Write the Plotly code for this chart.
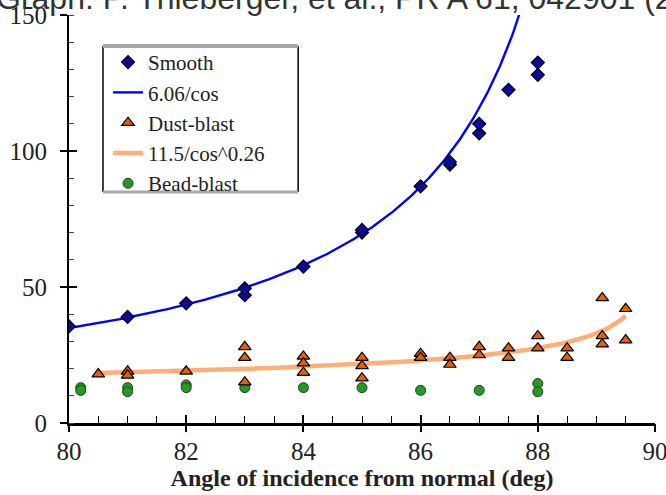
import numpy as np
import plotly.graph_objects as go

# ---- data ----
smooth_angle = [80, 81, 82, 83, 83, 84, 85, 85, 86, 86.5, 86.5, 87, 87, 87.5, 88, 88]
smooth_val = [35.5, 39, 44, 47, 49.5, 57.5, 70, 71, 87, 95, 96, 106.5, 110, 122.5, 128, 132.5]

dust_angle = [80.5, 81, 81, 82, 83, 83, 83, 84, 84, 84, 85, 85, 85, 86, 86,
              86.5, 86.5, 87, 87, 87.5, 87.5, 88, 88, 88.5, 88.5, 89.1, 89.1, 89.1, 89.5, 89.5]
dust_val = [18, 19, 17.5, 19, 28, 24, 15, 24.5, 22, 18.5, 24, 21, 16.5, 25.5, 24,
            24, 21.5, 28, 25, 27.5, 24, 32, 27.5, 27.5, 24, 46, 32, 29, 42, 30.5]

bead_angle = [80.2, 80.2, 81, 81, 82, 82, 83, 84, 85, 86, 87, 88, 88]
bead_val = [13, 12, 13, 11.5, 14, 13, 13, 13, 13, 12, 12, 14.5, 11.5]

# fit curves given in the legend: A / cos(theta)^p
smooth_fit_coef, smooth_fit_pow = 6.06, 1.0
dust_fit_coef, dust_fit_pow = 11.5, 0.26
smooth_fit_range = [80.0, 87.9]
dust_fit_range = [80.5, 89.5]

x_ticks = [80, 82, 84, 86, 88, 90]
y_ticks = [0, 50, 100, 150]

title_text = "Graph: P. Thieberger, et al., PR A 61, 042901 (2000)"
x_title = "Angle of incidence from normal (deg)"

def fit(coef, p, rng):
    th = np.linspace(rng[0], rng[1], 300)
    return th, coef / np.cos(np.radians(th)) ** p

serif = "Liberation Serif"

fig = go.Figure()
sx, sy = fit(smooth_fit_coef, smooth_fit_pow, smooth_fit_range)
dx, dy = fit(dust_fit_coef, dust_fit_pow, dust_fit_range)

fig.add_trace(go.Scatter(x=dx, y=dy, mode="lines", name="11.5/cos^0.26",
                         line=dict(color="rgba(255,120,30,0.6)", width=4.5),
                         legendrank=4))
fig.add_trace(go.Scatter(x=sx, y=sy, mode="lines", name="6.06/cos",
                         line=dict(color="#0000ff", width=2.4),
                         legendrank=2))
fig.add_trace(go.Scatter(x=bead_angle, y=bead_val, mode="markers", name="Bead-blast",
                         marker=dict(symbol="circle", size=10, color="#1e9e1e",
                                     line=dict(color="#333", width=1)),
                         legendrank=5))
fig.add_trace(go.Scatter(x=dust_angle, y=dust_val, mode="markers", name="Dust-blast",
                         marker=dict(symbol="triangle-up", size=11, color="#e0600e",
                                     line=dict(color="black", width=1.2)),
                         legendrank=3))
fig.add_trace(go.Scatter(x=smooth_angle, y=smooth_val, mode="markers", name="Smooth",
                         marker=dict(symbol="diamond", size=10, color="#0a0a9e",
                                     line=dict(color="black", width=1.2)),
                         legendrank=1))

# overlay axes carrying the other half of the major ticks
fig.add_trace(go.Scatter(x=[80], y=[0], xaxis="x2", yaxis="y2", mode="markers",
                         marker=dict(opacity=0), showlegend=False, hoverinfo="skip"))

# legend frame (paper coordinates)
lx0, lx1, ly0, ly1 = 0.058, 0.391, 0.566, 0.924
shapes = [
    dict(type="rect", xref="paper", yref="paper", x0=lx0, x1=lx1, y0=ly0, y1=ly1,
         fillcolor="white", line=dict(width=0), layer="below"),
    dict(type="line", xref="paper", yref="paper", x0=lx0, x1=lx0, y0=ly0, y1=ly1,
         line=dict(color="black", width=1.5)),
    dict(type="line", xref="paper", yref="paper", x0=lx1, x1=lx1, y0=ly0, y1=ly1,
         line=dict(color="black", width=1.5)),
    dict(type="line", xref="paper", yref="paper", x0=lx0, x1=lx1, y0=ly1, y1=ly1,
         line=dict(color="#a8a8a8", width=4)),
    dict(type="line", xref="paper", yref="paper", x0=lx0, x1=lx1, y0=ly0, y1=ly0,
         line=dict(color="#a8a8a8", width=3)),
]

fig.update_layout(
    width=666, height=495,
    margin=dict(l=69, r=11, t=15, b=72),
    paper_bgcolor="white", plot_bgcolor="white",
    showlegend=True,
    shapes=shapes,
    legend=dict(x=0.0666, y=0.934, xanchor="left", yanchor="top",
                bgcolor="rgba(0,0,0,0)", borderwidth=0,
                font=dict(family=serif, size=21, color="#222"),
                itemwidth=30),
    xaxis=dict(range=[80, 90], tickvals=x_ticks, ticks="inside", ticklen=8, tickwidth=1.5,
               tickcolor="black", showline=True, linecolor="black", linewidth=2.5,
               showgrid=False, zeroline=False, automargin=False, ticklabeloverflow="allow",
               ticklabelstandoff=4,
               minor=dict(dtick=0.5, ticks="inside", ticklen=7, tickwidth=1.2, tickcolor="black"),
               tickfont=dict(family=serif, size=25, color="#222"),
               title=dict(text="<b>" + x_title + "</b>", standoff=0,
                          font=dict(family=serif, size=24, color="#222"))),
    yaxis=dict(range=[0, 150], tickvals=y_ticks, ticks="outside", ticklen=7, tickwidth=1.5,
               tickcolor="black", showline=True, linecolor="black", linewidth=2,
               showgrid=False, zeroline=False, automargin=False, ticklabelstandoff=8,
               ticklabeloverflow="allow",
               minor=dict(dtick=10, ticks="inside", ticklen=5, tickwidth=1.2, tickcolor="#444"),
               tickfont=dict(family=serif, size=25, color="#222")),
    xaxis2=dict(overlaying="x", matches="x", range=[80, 90], tickvals=x_ticks, ticks="outside",
                ticklen=8, tickwidth=1.5, tickcolor="black", showticklabels=False,
                showgrid=False, zeroline=False, anchor="y"),
    yaxis2=dict(overlaying="y", matches="y", range=[0, 150], tickvals=y_ticks, ticks="inside",
                ticklen=8, tickwidth=1.5, tickcolor="black", showticklabels=False,
                showgrid=False, zeroline=False, anchor="x"),
    annotations=[dict(text=title_text, xref="paper", yref="paper", x=-0.128, y=1.0,
                      xanchor="left", yanchor="bottom", yshift=-3, showarrow=False,
                      font=dict(family="Liberation Sans", size=32, color="#333"))],
)

fig.write_html("out.html")
